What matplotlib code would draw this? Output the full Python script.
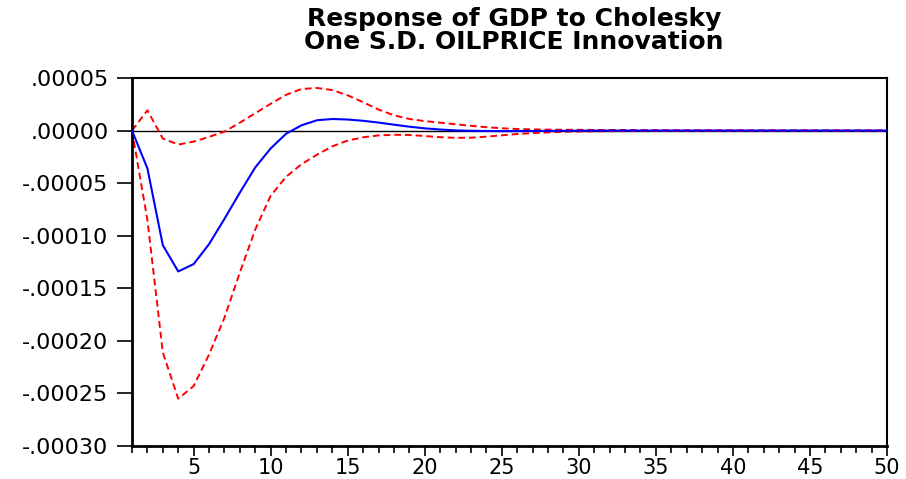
import numpy as np
import matplotlib
matplotlib.use('Agg')
import matplotlib.pyplot as plt
from matplotlib.ticker import MultipleLocator, FuncFormatter

# Periodos y respuestas
periods = list(range(1, 51))

response = [0.0, -3.6e-5, -1.09e-4, -1.34e-4, -1.27e-4, -1.08e-4, -8.4e-5, -5.9e-5, -3.5e-5, -1.7e-5,
            -3.0e-6, 5.0e-6, 9.8e-6, 1.1e-5, 1.05e-5, 9.3e-6, 7.6e-6, 5.6e-6, 3.7e-6, 2.1e-6,
            1.0e-6, 2.0e-7, -2.0e-7, -4.0e-7, -5.0e-7, -5.0e-7, -4.0e-7, -3.0e-7, -2.0e-7, -1.0e-7,
            -5e-8, -3e-8, -2e-8, -1e-8, 0.0, 0.0, 0.0, 0.0, 0.0, 0.0,
            0.0, 0.0, 0.0, 0.0, 0.0, 0.0, 0.0, 0.0, 0.0, 0.0]

upper = [0.0, 1.93e-5, -7.6e-6, -1.33e-5, -1.05e-5, -6.0e-6, -1.0e-6, 7.5e-6, 1.65e-5, 2.55e-5,
         3.4e-5, 3.95e-5, 4.05e-5, 3.85e-5, 3.35e-5, 2.7e-5, 2.0e-5, 1.45e-5, 1.1e-5, 9.0e-6,
         7.5e-6, 6.0e-6, 4.5e-6, 3.2e-6, 2.2e-6, 1.5e-6, 1.1e-6, 9.0e-7, 8.0e-7, 7.0e-7,
         6.0e-7, 5.5e-7, 5.0e-7, 4.5e-7, 4.0e-7, 3.5e-7, 3.0e-7, 2.8e-7, 2.5e-7, 2.2e-7,
         2.0e-7, 1.8e-7, 1.6e-7, 1.5e-7, 1.4e-7, 1.3e-7, 1.2e-7, 1.1e-7, 1.0e-7, 1.0e-7]

lower = [0.0, -8.5e-5, -2.11e-4, -2.55e-4, -2.43e-4, -2.13e-4, -1.78e-4, -1.35e-4, -9.4e-5, -6.2e-5,
         -4.4e-5, -3.2e-5, -2.3e-5, -1.5e-5, -9.5e-6, -6.4e-6, -4.6e-6, -4.0e-6, -4.2e-6, -5.2e-6,
         -6.3e-6, -6.9e-6, -6.8e-6, -5.8e-6, -4.5e-6, -3.3e-6, -2.4e-6, -1.7e-6, -1.2e-6, -9.0e-7,
         -7.0e-7, -6.0e-7, -5.0e-7, -4.5e-7, -4.0e-7, -3.5e-7, -3.0e-7, -2.8e-7, -2.5e-7, -2.2e-7,
         -2.0e-7, -1.8e-7, -1.6e-7, -1.5e-7, -1.4e-7, -1.3e-7, -1.2e-7, -1.1e-7, -1.0e-7, -1.0e-7]

title = 'Response of GDP to Cholesky\nOne S.D. OILPRICE Innovation'

plt.rcParams['font.family'] = ['DejaVu Sans']

fig = plt.figure(figsize=(9.06, 4.79), dpi=100)
ax = fig.add_axes([132 / 906, 33 / 479, 755 / 906, 368 / 479])

# Linea de cero y bandas
ax.axhline(0, color='black', lw=1.0, zorder=1)
ax.plot(periods, upper, color='#ff0000', lw=1.4, dashes=(3.5, 2), zorder=2)
ax.plot(periods, lower, color='#ff0000', lw=1.4, dashes=(3.5, 2), zorder=2)
ax.plot(periods, response, color='#0000ff', lw=1.5, zorder=3)

ax.set_xlim(1, 50)
ax.set_ylim(-0.0003, 0.00005)

ax.xaxis.set_major_locator(MultipleLocator(5))
ax.xaxis.set_minor_locator(MultipleLocator(1))
ax.yaxis.set_major_locator(MultipleLocator(0.00005))


def fmt(v, pos):
    s = f'{v:.5f}'
    if s.startswith('-') and float(s) == 0:
        s = s[1:]
    return s.replace('0.', '.', 1)


ax.yaxis.set_major_formatter(FuncFormatter(fmt))
ax.tick_params(axis='y', which='major', length=11, width=1.2, pad=6, labelsize=16)
ax.tick_params(axis='x', which='major', length=7, width=1.2, pad=2, labelsize=15)
ax.tick_params(axis='x', which='minor', length=5, width=1.2)

for side in ['left', 'bottom']:
    ax.spines[side].set_linewidth(2)
for side in ['top', 'right']:
    ax.spines[side].set_linewidth(1.5)

fig.text(0.567, 0.985, title, ha='center', va='top', fontsize=18,
         fontweight='bold', linespacing=0.95)

plt.savefig('out.png', dpi=100)
